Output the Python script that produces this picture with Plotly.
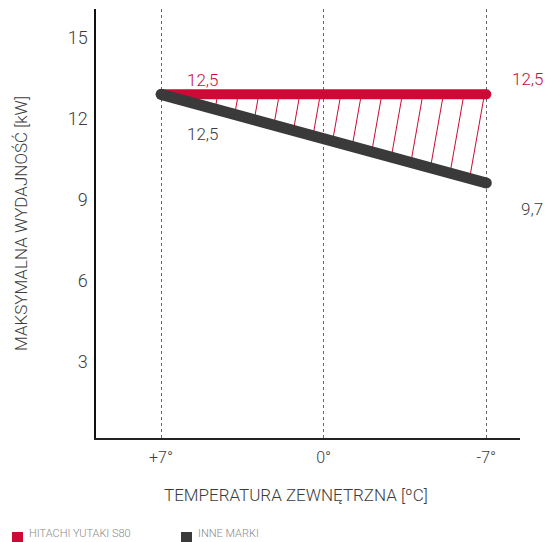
import plotly.graph_objects as go

# ---- data ----
temp_labels = ["+7°", "0°", "-7°"]
temp_values = [7, 0, -7]
hitachi = [12.91, 12.91, 12.91]
inne = [12.91, 11.27, 9.63]
hitachi_labels = ["12,5", "", "12,5"]
inne_labels = ["12,5", "", "9,7"]
y_ticks = [3, 6, 9, 12, 15]
series_names = ["HITACHI YUTAKI S80", "INNE MARKI"]

RED = "#CC0A35"
DARK = "#3A3A3A"
TXT = "#3c3c3c"
FONT = "Roboto"

W, H = 546, 542
SCR_L, SCR_R, SCR_T, SCR_B = 96, 520, 9, 438
L, T = SCR_L, SCR_T
R, B = W - SCR_R, H - SCR_B
PW, PH = W - L - R, H - T - B


def px(x):
    return (x - SCR_L) / PW


def py(y):
    return (SCR_B - y) / PH


fig = go.Figure()

# hatch lines between the two series
x_hi, x_lo = temp_values[0], temp_values[-1]
def v_dark(x):
    return inne[-1] + (x - x_lo) * (inne[0] - inne[-1]) / (x_hi - x_lo)

n_hatch = 14
xt_start, xt_end = 4.56, -6.92
slope_k = 0.2055
hx, hy = [], []
dark_slope = (inne[0] - inne[-1]) / (x_hi - x_lo)
for i in range(n_hatch):
    xt = xt_start + (xt_end - xt_start) * i / (n_hatch - 1)
    vr = hitachi[0]
    dv = (vr - v_dark(xt)) / (1 + dark_slope * slope_k)
    hx += [xt, xt + slope_k * dv, None]
    hy += [vr, vr - dv, None]
fig.add_trace(go.Scatter(x=hx, y=hy, mode="lines", line=dict(color=RED, width=1),
                         hoverinfo="skip", showlegend=False))

# hitachi line
fig.add_trace(go.Scatter(x=temp_values, y=hitachi, mode="lines", line=dict(color=RED, width=10),
                         name=series_names[0], showlegend=False))
fig.add_trace(go.Scatter(x=[temp_values[0], temp_values[-1]], y=[hitachi[0], hitachi[-1]], mode="markers",
                         marker=dict(color=RED, size=10, line=dict(width=0)), showlegend=False, hoverinfo="skip"))
# other brands line
fig.add_trace(go.Scatter(x=temp_values, y=inne, mode="lines", line=dict(color=DARK, width=11),
                         name=series_names[1], showlegend=False))
fig.add_trace(go.Scatter(x=[temp_values[0], temp_values[-1]], y=[inne[0], inne[-1]], mode="markers",
                         marker=dict(color=DARK, size=11, line=dict(width=0)), showlegend=False, hoverinfo="skip"))

annotations = []
# data labels
offs_h = [(42, 14), None, (42, 15)]
offs_i = [(42, -40), None, (46, -26)]
for i, t in enumerate(hitachi_labels):
    if t:
        annotations.append(dict(x=temp_values[i], y=hitachi[i], text=t, showarrow=False,
                                xshift=offs_h[i][0], yshift=offs_h[i][1],
                                font=dict(color=RED, size=17, family=FONT, weight=300)))
for i, t in enumerate(inne_labels):
    if t:
        annotations.append(dict(x=temp_values[i], y=inne[i], text=t, showarrow=False,
                                xshift=offs_i[i][0], yshift=offs_i[i][1],
                                font=dict(color=TXT, size=17, family=FONT, weight=300)))

# x axis title
annotations.append(dict(xref="paper", yref="paper", x=px(296), y=py(495), text="TEMPERATURA ZEWNĘTRZNA [ºC]",
                        showarrow=False, xanchor="center", yanchor="middle",
                        font=dict(color=TXT, size=17, family=FONT, weight=300)))

# legend
shapes = []
legend_x = [12, 181]
colors = [RED, DARK]
for i, name in enumerate(series_names):
    x0 = legend_x[i]
    shapes.append(dict(type="rect", xref="paper", yref="paper", x0=px(x0), x1=px(x0 + 11),
                       y0=py(542), y1=py(532), fillcolor=colors[i], line=dict(width=0)))
    annotations.append(dict(xref="paper", yref="paper", x=px(x0 + 15), y=py(542), text=name,
                            showarrow=False, xanchor="left", yanchor="bottom",
                            font=dict(color="#8a8a8a", size=11, family=FONT, weight=300)))

fig.update_layout(
    width=W, height=H,
    margin=dict(l=L, r=R, t=T, b=B),
    paper_bgcolor="white", plot_bgcolor="white",
    font=dict(family=FONT, color=TXT),
    annotations=annotations, shapes=shapes,
    showlegend=False,
    xaxis=dict(range=[9.8, -8.45], tickvals=temp_values, ticktext=temp_labels,
               showgrid=True, gridcolor="#666", griddash="dot", gridwidth=1,
               zeroline=False, showline=True, linecolor="#222", linewidth=2,
               ticks="", ticklabelstandoff=4,
               tickfont=dict(size=16, family=FONT, color=TXT, weight=300)),
    yaxis=dict(range=[0.19, 16.07], tickvals=y_ticks, showgrid=False, zeroline=False,
               showline=True, linecolor="#111", linewidth=1.5, ticks="",
               ticklabelstandoff=3,
               tickfont=dict(size=18, family=FONT, color=TXT, weight=300),
               title=dict(text="MAKSYMALNA WYDAJNOŚĆ [kW]", standoff=36,
                          font=dict(size=17, family=FONT, color=TXT, weight=300))),
)

fig.write_html("out.html", config={"displayModeBar": False},
               post_script="document.body.style.margin='0px';document.body.style.overflow='hidden';")
